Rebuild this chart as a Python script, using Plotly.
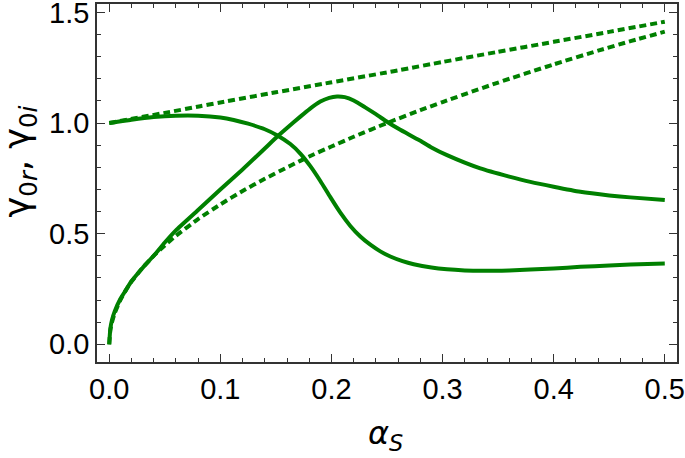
import plotly.graph_objects as go

# Solid curve A (starts at 1)
a_x = [0, 0.02, 0.04, 0.06, 0.08, 0.1, 0.112, 0.125, 0.14, 0.151, 0.163, 0.172, 0.181, 0.19,
       0.199, 0.208, 0.217, 0.226, 0.235, 0.244, 0.253, 0.264, 0.274, 0.29, 0.304, 0.32,
       0.334, 0.36, 0.379, 0.4, 0.424, 0.45, 0.469, 0.5]
a_y = [1.0, 1.015, 1.027, 1.033, 1.033, 1.025, 1.014, 0.997, 0.972, 0.945, 0.905, 0.862, 0.805, 0.738,
       0.665, 0.595, 0.535, 0.487, 0.45, 0.42, 0.397, 0.376, 0.362, 0.347, 0.339, 0.334,
       0.332, 0.334, 0.338, 0.343, 0.35, 0.356, 0.361, 0.365]

# Solid curve B (starts at 0, peaks)
b_x = [0, 0.001, 0.0025, 0.005, 0.01, 0.015, 0.02, 0.03, 0.04, 0.05, 0.06, 0.08, 0.1, 0.12,
       0.14, 0.151, 0.16, 0.172, 0.18, 0.19, 0.198, 0.205, 0.212, 0.22, 0.23, 0.24, 0.25,
       0.26, 0.27, 0.28, 0.29, 0.304, 0.334, 0.36, 0.379, 0.4, 0.424, 0.45, 0.469, 0.5]
b_y = [0, 0.07, 0.11, 0.15, 0.205, 0.245, 0.285, 0.345, 0.40, 0.46, 0.515, 0.607, 0.70, 0.79,
       0.885, 0.938, 0.978, 1.029, 1.062, 1.097, 1.114, 1.12, 1.117, 1.102, 1.072, 1.04, 1.006,
       0.975, 0.947, 0.92, 0.89, 0.855, 0.795, 0.758, 0.734, 0.712, 0.689, 0.673, 0.664, 0.652]

# Dotted upper curve C
c_x = [0, 0.05, 0.082, 0.1, 0.15, 0.199, 0.25, 0.262, 0.3, 0.349, 0.4, 0.45, 0.5]
c_y = [1.0, 1.046, 1.076, 1.093, 1.139, 1.183, 1.229, 1.24, 1.276, 1.321, 1.367, 1.412, 1.458]

# Dotted lower curve D
d_x = [0, 0.001, 0.0025, 0.005, 0.01, 0.015, 0.02, 0.03, 0.04, 0.05, 0.06, 0.08, 0.1, 0.12,
       0.14, 0.163, 0.18, 0.2, 0.22, 0.25, 0.28, 0.3, 0.35, 0.4, 0.44, 0.47, 0.5]
d_y = [0, 0.063, 0.1, 0.141, 0.2, 0.245, 0.283, 0.346, 0.40, 0.447, 0.49, 0.566, 0.632, 0.693,
       0.748, 0.807, 0.849, 0.894, 0.938, 1.0, 1.058, 1.095, 1.183, 1.265, 1.327, 1.371, 1.413]

green = "rgb(0,128,0)"
fig = go.Figure()
for xs, ys, dash in [(c_x, c_y, "7px,4px"), (d_x, d_y, "7px,4px"),
                     (a_x, a_y, "solid"), (b_x, b_y, "solid")]:
    fig.add_trace(go.Scatter(x=xs, y=ys, mode="lines",
                             line=dict(color=green, width=4, dash=dash, shape="spline", smoothing=0.5),
                             showlegend=False, hoverinfo="skip"))

tick_font = dict(family="Liberation Sans, Arial", size=29, color="black")
axis_common = dict(
    showline=True, linecolor="#333333", linewidth=1.5, mirror="allticks",
    ticks="inside", ticklen=8, tickwidth=1.2, tickcolor="#333333",
    showgrid=False, zeroline=False, automargin=False, ticklabeloverflow="allow",
    tickfont=tick_font,
)
fig.update_xaxes(**axis_common, range=[-0.011, 0.511], tick0=0, dtick=0.1, tickformat=".1f",
                 minor=dict(ticks="inside", ticklen=4, tickwidth=1, tickcolor="#333333", dtick=0.02, tick0=0))
fig.update_yaxes(**axis_common, range=[-0.08, 1.538], tick0=0, dtick=0.5, tickformat=".1f",
                 minor=dict(ticks="inside", ticklen=4, tickwidth=1, tickcolor="#333333", dtick=0.1, tick0=0))

fig.add_annotation(text="<i>α<sub>S</sub></i>", xref="paper", yref="paper",
                   x=0.498, y=-0.205, xanchor="center", yanchor="middle", showarrow=False,
                   font=dict(family="DejaVu Sans", size=32, color="black"))
fig.add_annotation(text="γ<sub>0<i>r</i></sub>, γ<sub>0<i>i</i></sub>", xref="paper", yref="paper",
                   x=-0.133, y=0.56, xanchor="center", yanchor="middle", showarrow=False, textangle=-90,
                   font=dict(family="DejaVu Sans", size=35, color="black"))

fig.update_layout(width=685, height=458, margin=dict(l=97, r=8, t=4, b=96),
                  plot_bgcolor="white", paper_bgcolor="white")
fig.write_html("out.html", config={"displayModeBar": False},
               post_script="document.body.style.margin='0';document.body.style.overflow='hidden';")
